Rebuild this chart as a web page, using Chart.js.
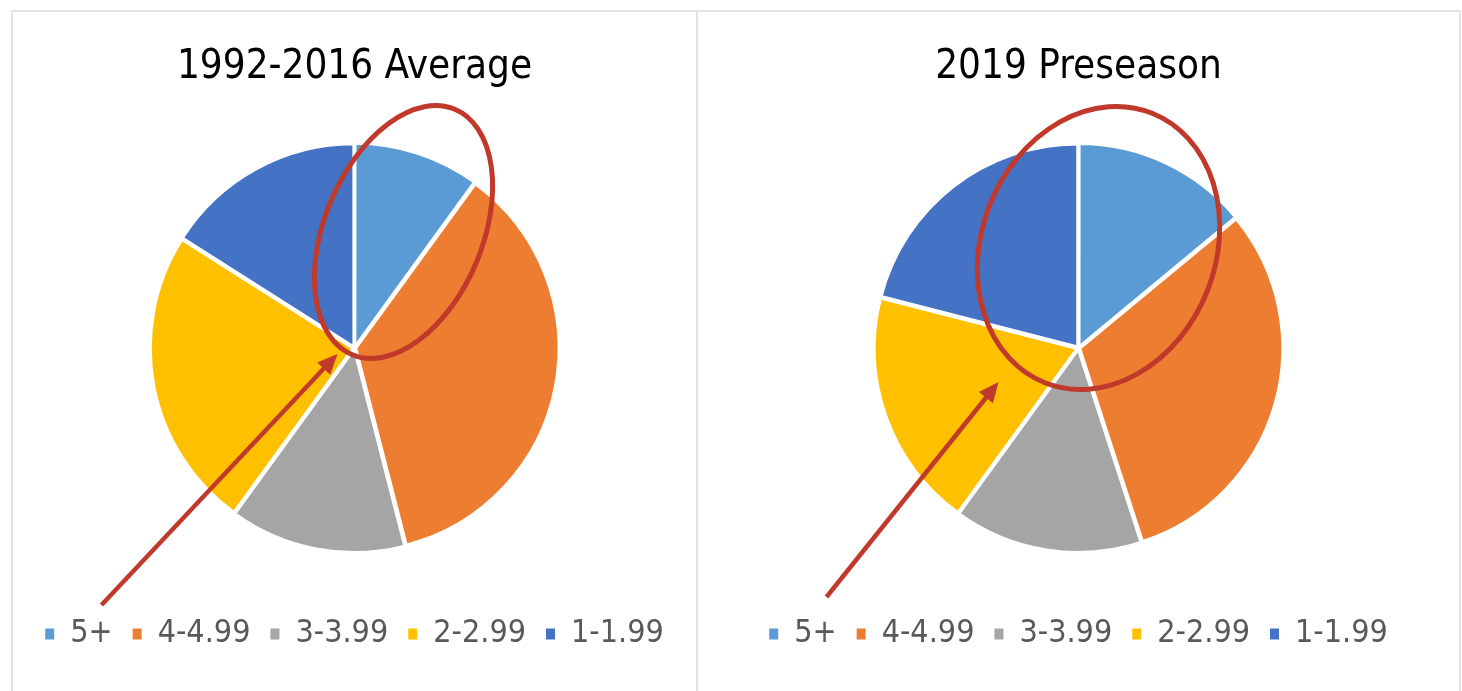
<!DOCTYPE html>
<html lang="en">
<head>
  <meta charset="UTF-8" />
  <title>Pie comparison</title>
  <script src="https://cdn.jsdelivr.net/npm/chart.js"></script>
  <style>
    * { box-sizing: border-box; }
    body {
      margin: 0;
      background: #ffffff;
      width: 1462px;
      height: 691px;
      position: relative;
      overflow: hidden;
    }
    .panel {
      position: absolute;
      top: 10px;
      height: 690px;
      border-top: 2px solid #e3e3e3;
      border-left: 2px solid #e3e3e3;
      border-right: 2px solid #e3e3e3;
      background: #fff;
    }
    #p1 { left: 11px; width: 687px; }
    #p2 { left: 696px; width: 765px; }
    canvas { display: block; }
  </style>
</head>
<body>
  <div class="panel" id="p1"><canvas id="c1" width="683" height="678"></canvas></div>
  <div class="panel" id="p2"><canvas id="c2" width="761" height="678"></canvas></div>

  <script>
    // share of each bucket (percent), clockwise from 12 o'clock
    const categories = ['5+', '4-4.99', '3-3.99', '2-2.99', '1-1.99'];
    const avg19922016 = [10, 36, 14, 24, 16];
    const preseason2019 = [14, 31, 15, 19, 21];
    const sliceColors = ['#5b9bd5', '#ed7d31', '#a5a5a5', '#ffc000', '#4472c4'];

    const fontName = "'Liberation Sans Narrow', 'DejaVu Sans Condensed', 'Liberation Sans', sans-serif";
    const RED = '#c0392b';

    // red ellipse + arrow drawn on top, placed relative to the pie centre
    const markup = {
      id: 'markup',
      afterDraw(chart, args, opts) {
        const arc = chart.getDatasetMeta(0).data[0];
        if (!arc) return;
        const cx = arc.x, cy = arc.y;
        const ctx = chart.ctx;
        ctx.save();
        ctx.strokeStyle = RED;
        ctx.fillStyle = RED;

        // ellipse
        const e = opts.ellipse;
        ctx.lineWidth = 5;
        ctx.beginPath();
        ctx.ellipse(cx + e.dx, cy + e.dy, e.rx, e.ry, e.rot * Math.PI / 180, 0, Math.PI * 2);
        ctx.stroke();

        // arrow
        const a = opts.arrow;
        const x1 = cx + a.tail[0], y1 = cy + a.tail[1];
        const x2 = cx + a.tip[0], y2 = cy + a.tip[1];
        const ang = Math.atan2(y2 - y1, x2 - x1);
        const head = 22;
        ctx.lineWidth = 4.5;
        ctx.beginPath();
        ctx.moveTo(x1, y1);
        ctx.lineTo(x2 - Math.cos(ang) * head * 0.8, y2 - Math.sin(ang) * head * 0.8);
        ctx.stroke();
        ctx.beginPath();
        ctx.moveTo(x2, y2);
        ctx.lineTo(x2 - head * Math.cos(ang - 0.42), y2 - head * Math.sin(ang - 0.42));
        ctx.lineTo(x2 - head * Math.cos(ang + 0.42), y2 - head * Math.sin(ang + 0.42));
        ctx.closePath();
        ctx.fill();
        ctx.restore();
      }
    };

    function makePie(id, title, values, mark) {
      return new Chart(document.getElementById(id), {
        type: 'pie',
        data: {
          labels: categories,
          datasets: [{
            data: values,
            backgroundColor: sliceColors,
            borderColor: '#ffffff',
            borderWidth: 3,
            offset: 5,
            radius: 203
          }]
        },
        options: {
          responsive: false,
          animation: false,
          layout: { padding: { bottom: 30 } },
          plugins: {
            title: {
              display: true,
              text: title,
              color: '#000000',
              font: { family: fontName, size: 40, weight: 'normal', lineHeight: 1.2 },
              padding: { top: 32, bottom: 6 }
            },
            legend: {
              position: 'bottom',
              labels: {
                color: '#595959',
                font: { family: fontName, size: 32 },
                boxWidth: 9,
                boxHeight: 11,
                padding: 20,
                // no white outline on the legend squares
                generateLabels(chart) {
                  const items = Chart.overrides.pie.plugins.legend.labels.generateLabels(chart);
                  items.forEach(i => { i.lineWidth = 0; });
                  return items;
                }
              }
            },
            tooltip: { enabled: false },
            markup: mark
          }
        },
        plugins: [markup]
      });
    }

    makePie('c1', '1992-2016 Average', avg19922016, {
      ellipse: { dx: 49, dy: -116, rx: 79, ry: 133, rot: 22.7 },
      arrow: { tail: [-253, 257], tip: [-17, 6] }
    });
    makePie('c2', '2019 Preseason', preseason2019, {
      ellipse: { dx: 20, dy: -100, rx: 117, ry: 145, rot: 21.7 },
      arrow: { tail: [-252, 249], tip: [-80, 34] }
    });
  </script>
</body>
</html>
